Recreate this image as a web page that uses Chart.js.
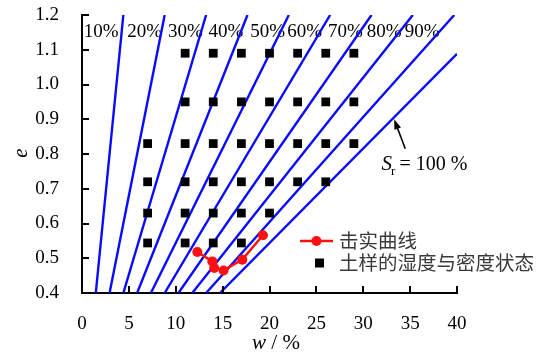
<!DOCTYPE html>
<html>
<head>
<meta charset="utf-8">
<script src="https://cdn.jsdelivr.net/npm/chart.js@4/dist/chart.umd.min.js"></script>
<style>
  html, body { margin: 0; padding: 0; background: #fff; }
  #wrap { width: 544px; height: 356px; }
</style>
</head>
<body>
<div id="wrap"><canvas id="c" width="544" height="356"></canvas></div>
<script>
// Degree of saturation lines (Sr, %) and their end points (w in %, void ratio e)
const saturation  = [10, 20, 30, 40, 50, 60, 70, 80, 90, 100];
const lineBottomW = [1.47, 2.94, 4.41, 5.88, 7.35, 8.82, 10.29, 11.76, 13.24, 14.71];
const lineBottomE = [0.4, 0.4, 0.4, 0.4, 0.4, 0.4, 0.4, 0.4, 0.4, 0.4];
const lineTopW    = [4.41, 8.82, 13.24, 17.65, 22.06, 26.47, 30.88, 35.29, 39.71, 40];
const lineTopE    = [1.2, 1.2, 1.2, 1.2, 1.2, 1.2, 1.2, 1.2, 1.2, 1.088];

// Sr labels along the top (right edge of each label, in w)
const labelRightW = [3.9, 8.55, 12.9, 17.2, 21.65, 25.6, 29.95, 34.1, 38.15];
const labelE = 1.152;

// Soil sample moisture / density states
const sampleW = [11, 14, 17, 20, 23, 26, 29,
                 11, 14, 17, 20, 23, 26, 29,
                 7, 11, 14, 17, 20, 23, 26, 29,
                 7, 11, 14, 17, 20, 23, 26,
                 7, 11, 14, 17, 20,
                 7, 11, 14, 17];
const sampleE = [1.09, 1.09, 1.09, 1.09, 1.09, 1.09, 1.09,
                 0.95, 0.95, 0.95, 0.95, 0.95, 0.95, 0.95,
                 0.83, 0.83, 0.83, 0.83, 0.83, 0.83, 0.83, 0.83,
                 0.72, 0.72, 0.72, 0.72, 0.72, 0.72, 0.72,
                 0.63, 0.63, 0.63, 0.63, 0.63,
                 0.544, 0.544, 0.544, 0.544];

// Compaction curve
const compactW = [12.3, 13.9, 14.1, 15.1, 17.1, 19.3];
const compactE = [0.518, 0.491, 0.472, 0.465, 0.496, 0.566];

// Axis ticks
const xTicks = [0, 5, 10, 15, 20, 25, 30, 35, 40];
const yTicks = [0.4, 0.5, 0.6, 0.7, 0.8, 0.9, 1.0, 1.1, 1.2];

const BLUE = '#0a0aff';
const RED = '#ff1010';
const SERIF = '"Liberation Serif", "Times New Roman", serif';
const CJK = '"Noto Sans CJK SC", sans-serif';

const datasets = [];
datasets.push({
  label: '击实曲线',
  data: compactW.map((w, i) => ({ x: w, y: compactE[i] })),
  showLine: true,
  borderColor: RED,
  backgroundColor: RED,
  borderWidth: 2.5,
  pointRadius: 5,
  pointBorderWidth: 0,
  order: 0
});
datasets.push({
  label: '土样的湿度与密度状态',
  data: sampleW.map((w, i) => ({ x: w, y: sampleE[i] })),
  showLine: false,
  pointStyle: 'rect',
  pointRadius: 6.2,
  backgroundColor: '#000',
  borderColor: '#000',
  borderWidth: 0,
  order: 1
});
saturation.forEach((s, i) => {
  datasets.push({
    label: 'Sr ' + s + '%',
    data: [{ x: lineBottomW[i], y: lineBottomE[i] }, { x: lineTopW[i], y: lineTopE[i] }],
    showLine: true,
    borderColor: BLUE,
    borderWidth: 2.4,
    pointRadius: 0,
    order: 2
  });
});

const decor = {
  id: 'decor',
  beforeDatasetsDraw(chart) {
    const { ctx, scales: { x, y } } = chart;
    ctx.save();
    ctx.font = '19px ' + SERIF;
    ctx.fillStyle = '#000';
    ctx.textAlign = 'right';
    ctx.textBaseline = 'middle';
    labelRightW.forEach((w, i) => {
      ctx.fillText(saturation[i] + '%', x.getPixelForValue(w), y.getPixelForValue(labelE));
    });
    ctx.restore();
  },
  afterDraw(chart) {
    const { ctx, chartArea: a, scales: { x, y } } = chart;
    ctx.save();

    // inward tick marks
    ctx.strokeStyle = '#000';
    ctx.lineWidth = 2;
    ctx.beginPath();
    xTicks.forEach(v => {
      const px = Math.round(x.getPixelForValue(v));
      ctx.moveTo(px, a.bottom);
      ctx.lineTo(px, a.bottom - 7);
    });
    yTicks.forEach(v => {
      const py = Math.round(y.getPixelForValue(v));
      ctx.moveTo(a.left, py);
      ctx.lineTo(a.left + 7, py);
    });
    ctx.stroke();

    // axis titles
    ctx.fillStyle = '#000';
    ctx.textBaseline = 'middle';
    ctx.save();
    ctx.translate(21, 153);
    ctx.rotate(-Math.PI / 2);
    ctx.textAlign = 'center';
    ctx.font = 'italic 21px ' + SERIF;
    ctx.fillText('e', 0, 0);
    ctx.restore();

    ctx.textAlign = 'left';
    ctx.font = 'italic 21px ' + SERIF;
    const wW = ctx.measureText('w').width;
    ctx.font = '21px ' + SERIF;
    const restW = ctx.measureText(' / %').width;
    const tx = 276 - (wW + restW) / 2;
    ctx.font = 'italic 21px ' + SERIF;
    ctx.fillText('w', tx, 343);
    ctx.font = '21px ' + SERIF;
    ctx.fillText(' / %', tx + wW, 343);

    // Sr = 100 % annotation with arrow
    const tipX = x.getPixelForValue(33.3), tipY = y.getPixelForValue(0.9);
    const tailX = x.getPixelForValue(34.48), tailY = y.getPixelForValue(0.815);
    const ang = Math.atan2(tipY - tailY, tipX - tailX);
    ctx.strokeStyle = '#000';
    ctx.lineWidth = 1.6;
    ctx.beginPath();
    ctx.moveTo(tailX, tailY);
    ctx.lineTo(tipX - 6 * Math.cos(ang), tipY - 6 * Math.sin(ang));
    ctx.stroke();
    ctx.beginPath();
    ctx.moveTo(tipX, tipY);
    ctx.lineTo(tipX - 10 * Math.cos(ang) + 3.5 * Math.sin(ang), tipY - 10 * Math.sin(ang) - 3.5 * Math.cos(ang));
    ctx.lineTo(tipX - 10 * Math.cos(ang) - 3.5 * Math.sin(ang), tipY - 10 * Math.sin(ang) + 3.5 * Math.cos(ang));
    ctx.closePath();
    ctx.fill();

    const sx = x.getPixelForValue(31.95), sy = 163;
    ctx.textBaseline = 'alphabetic';
    ctx.font = 'italic 21px ' + SERIF;
    ctx.fillText('S', sx, sy + 7);
    const sW = ctx.measureText('S').width;
    ctx.font = '13px ' + SERIF;
    ctx.fillText('r', sx + sW - 1, sy + 12);
    ctx.font = '20px ' + SERIF;
    ctx.fillText('= 100 %', sx + 18, sy + 7);

    // legend
    const lx = 300, ly1 = 241, ly2 = 263;
    ctx.strokeStyle = RED;
    ctx.lineWidth = 2.5;
    ctx.beginPath();
    ctx.moveTo(lx, ly1);
    ctx.lineTo(lx + 33, ly1);
    ctx.stroke();
    ctx.fillStyle = RED;
    ctx.beginPath();
    ctx.arc(lx + 16.5, ly1, 5, 0, Math.PI * 2);
    ctx.fill();
    ctx.fillStyle = '#000';
    ctx.fillRect(lx + 15, ly2 - 4.5, 9, 9);
    ctx.fillStyle = '#3a3a3a';
    ctx.font = '19.5px ' + CJK;
    ctx.textBaseline = 'middle';
    ctx.textAlign = 'left';
    ctx.fillText(chart.data.datasets[0].label, 339, ly1);
    ctx.fillText(chart.data.datasets[1].label, 339, ly2);

    ctx.restore();
  }
};

new Chart(document.getElementById('c'), {
  type: 'scatter',
  data: { datasets },
  options: {
    responsive: false,
    animation: false,
    devicePixelRatio: 1,
    layout: { padding: { left: 0, right: 87, top: 15, bottom: 0 } },
    plugins: { legend: { display: false }, tooltip: { enabled: false } },
    scales: {
      x: {
        type: 'linear',
        min: 0, max: 40,
        afterBuildTicks: s => { s.ticks = xTicks.map(v => ({ value: v })); },
        afterFit: s => { s.height = 63; s.paddingLeft = 0; s.paddingRight = 0; },
        grid: { display: false },
        border: { display: true, color: '#000', width: 2 },
        ticks: { color: '#000', padding: 12, maxRotation: 0, font: { family: SERIF, size: 19 } }
      },
      y: {
        type: 'linear',
        min: 0.4, max: 1.2,
        afterBuildTicks: s => { s.ticks = yTicks.map(v => ({ value: v })); },
        afterFit: s => { s.width = 82; s.paddingTop = 0; s.paddingBottom = 0; },
        grid: { display: false },
        border: { display: true, color: '#000', width: 2 },
        ticks: { color: '#000', padding: 15, font: { family: SERIF, size: 19 },
                 callback: v => Number(v).toFixed(1) }
      }
    }
  },
  plugins: [decor]
});
</script>
</body>
</html>
